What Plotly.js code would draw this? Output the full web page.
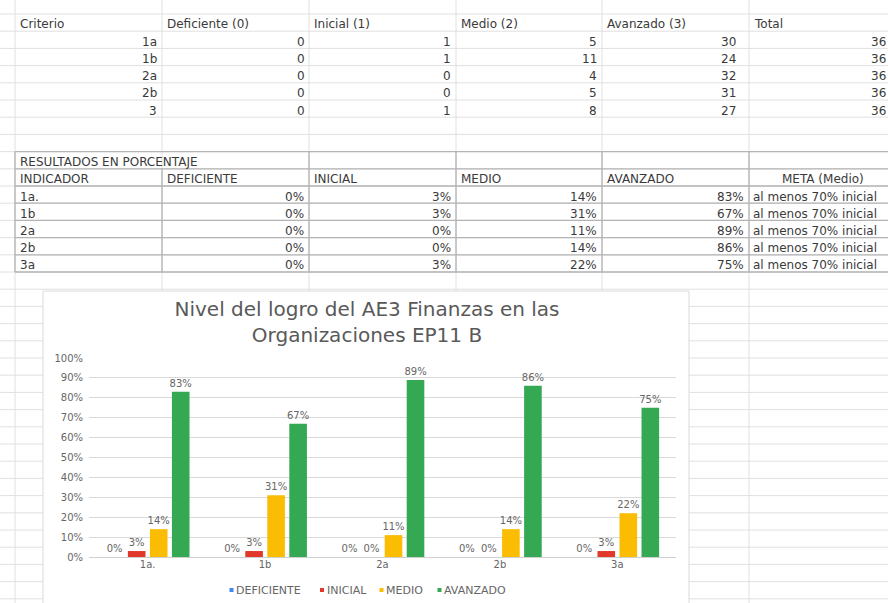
<!DOCTYPE html>
<html><head><meta charset="utf-8">
<script src="https://cdn.plot.ly/plotly-3.0.1.min.js"></script>
<style>html,body{margin:0;padding:0;background:#fff}#chart{width:888px;height:603px}</style>
</head><body><div id="chart"></div>
<script>
// ---- Table 1: counts ----
const t1Headers = ['Criterio','Deficiente (0)','Inicial (1)','Medio (2)','Avanzado (3)','Total'];
const criterios = ['1a','1b','2a','2b','3'];
const cntDeficiente = [0,0,0,0,0];
const cntInicial = [1,1,0,0,1];
const cntMedio = [5,11,4,5,8];
const cntAvanzado = [30,24,32,31,27];
const cntTotal = [36,36,36,36,36];

// ---- Table 2 / chart: percentages ----
const t2Title = 'RESULTADOS EN PORCENTAJE';
const t2Headers = ['INDICADOR','DEFICIENTE','INICIAL','MEDIO','AVANZADO','META (Medio)'];
const indicadores = ['1a.','1b','2a','2b','3a'];
const pctDeficiente = [0,0,0,0,0];
const pctInicial = [0.03,0.03,0,0,0.03];
const pctMedio = [0.14,0.31,0.11,0.14,0.22];
const pctAvanzado = [0.83,0.67,0.89,0.86,0.75];
const metas = ['al menos 70% inicial','al menos 70% inicial','al menos 70% inicial','al menos 70% inicial','al menos 70% inicial'];
const seriesNames = ['DEFICIENTE','INICIAL','MEDIO','AVANZADO'];
const chartTitle = 'Nivel del logro del AE3 Finanzas en las<br>Organizaciones EP11 B';

// ---- geometry / style ----
const W = 888, H = 603;
const px = x => x / W, py = y => 1 - y / H;
const colEdges = [15, 162, 309, 456, 602, 749];
const rowTop0 = 14, rowH = 17.2, nRowLines = 35;
const rowTop = r => rowTop0 + r * rowH;
const FONT = 'DejaVu Sans';
const sheetFont = {family: FONT, size: 12, color: '#3a3a3a'};
const colors = ['#4285F4', '#E2382B', '#FBBC04', '#34A853'];

const shapes = [];
const annotations = [];
function hline(y, x0, x1, color, w) {
  shapes.push({type:'line', layer:'below', xref:'paper', yref:'paper', x0:px(x0), x1:px(x1), y0:py(y), y1:py(y), line:{color, width:w}});
}
function vline(x, y0, y1, color, w) {
  shapes.push({type:'line', layer:'below', xref:'paper', yref:'paper', x0:px(x), x1:px(x), y0:py(y0), y1:py(y1), line:{color, width:w}});
}
function cell(text, x, row, anchor, font) {
  annotations.push({text: String(text), x: px(x), y: py(rowTop(row) + 10.5), xref:'paper', yref:'paper',
    xanchor: anchor, yanchor:'middle', showarrow:false, font: font || sheetFont, borderpad:0});
}

// sheet grid
const gridC = '#e0e0e0';
for (let k = 0; k < nRowLines; k++) hline(rowTop(k), 0, W, gridC, 1);
colEdges.forEach(e => vline(e, 0, H, gridC, 1));

// table 2 borders
const bordC = '#b4b4b4';
for (let k = 8; k <= 15; k++) hline(rowTop(k), colEdges[0], W + 5, bordC, 1.3);
colEdges.forEach(e => {
  if (e === 162) vline(e, rowTop(9), rowTop(15), bordC, 1.3);
  else vline(e, rowTop(8), rowTop(15), bordC, 1.3);
});

// chart area box
shapes.push({type:'rect', layer:'below', xref:'paper', yref:'paper', x0:px(43), x1:px(689), y0:py(H+2), y1:py(291),
  fillcolor:'#ffffff', line:{color:'#dadada', width:1}});

// table 1 text
const leftX = colEdges.map(e => e + 4);
t1Headers.forEach((h, i) => cell(h, leftX[i], 0, 'left'));
const t1Right = [158, 306, 452, 598, 737, 887];
const t1Cols = [criterios, cntDeficiente, cntInicial, cntMedio, cntAvanzado, cntTotal];
t1Cols.forEach((col, c) => col.forEach((v, r) => cell(v, t1Right[c], r + 1, 'right')));

// table 2 text
cell(t2Title, leftX[0], 8, 'left');
t2Headers.forEach((h, i) => {
  if (i === 5) cell(h, (colEdges[5] + 896) / 2, 9, 'center');
  else cell(h, leftX[i], 9, 'left');
});
const fmtPct = v => Math.round(v * 100) + '%';
indicadores.forEach((v, r) => cell(v, leftX[0], r + 10, 'left'));
const t2Right = [305, 452, 598, 745];
[pctDeficiente, pctInicial, pctMedio, pctAvanzado].forEach((col, c) =>
  col.forEach((v, r) => cell(fmtPct(v), t2Right[c], r + 10, 'right')));
metas.forEach((v, r) => cell(v, colEdges[5] + 3, r + 10, 'left'));

// chart legend (small squares + labels, spreadsheet style)
const legendItemX = [229.5, 320, 379.5, 437.5];
const legendY = 590;
seriesNames.forEach((n, i) => {
  const x = legendItemX[i];
  shapes.push({type:'rect', xref:'paper', yref:'paper', x0:px(x), x1:px(x + 4), y0:py(legendY + 2), y1:py(legendY - 2),
    fillcolor: colors[i], line:{width:0}});
  annotations.push({text: n, x: px(x + 5.5), y: py(legendY), xref:'paper', yref:'paper', xanchor:'left', yanchor:'middle',
    showarrow:false, borderpad:0, font:{family: FONT, size: 11, color:'#666'}});
});

// chart traces
const series = [pctDeficiente, pctInicial, pctMedio, pctAvanzado];
const traces = series.map((ys, i) => ({
  type:'bar', x: indicadores, y: ys, name: seriesNames[i], marker:{color: colors[i]},
  texttemplate:'%{y:.0%}', textposition:'outside', cliponaxis:false, constraintext:'none',
  textfont:{family: FONT, size: 10, color:'#666'}, hoverinfo:'skip'
}));

const layout = {
  width: W, height: H, margin:{l:0, r:0, t:0, b:0},
  paper_bgcolor:'#ffffff', plot_bgcolor:'rgba(0,0,0,0)',
  font:{family: FONT, color:'#666'},
  title:{text: chartTitle, x: px(367), xanchor:'center', xref:'paper', y: py(316), yanchor:'middle', yref:'container',
    font:{family: FONT, size: 20, color:'#595959'}},
  barmode:'group', bargap:0.25, bargroupgap:0.2,
  xaxis:{domain:[px(89), px(676)], type:'category', showgrid:false, showline:false, zeroline:false, ticks:'',
    tickfont:{family: FONT, size: 10, color:'#666'}, fixedrange:true},
  yaxis:{domain:[py(557), py(358)], range:[0, 1], dtick:0.1, tickformat:'.0%', showline:false, ticks:'',
    ticklabelstandoff:5,
    gridcolor:'#d9d9d9', gridwidth:1, zeroline:true, zerolinecolor:'#d0d0d0', zerolinewidth:1,
    tickfont:{family: FONT, size: 10, color:'#666'}, fixedrange:true},
  showlegend:false,
  shapes, annotations
};
Plotly.newPlot('chart', traces, layout, {displayModeBar:false, staticPlot:true});
</script>
</body></html>
